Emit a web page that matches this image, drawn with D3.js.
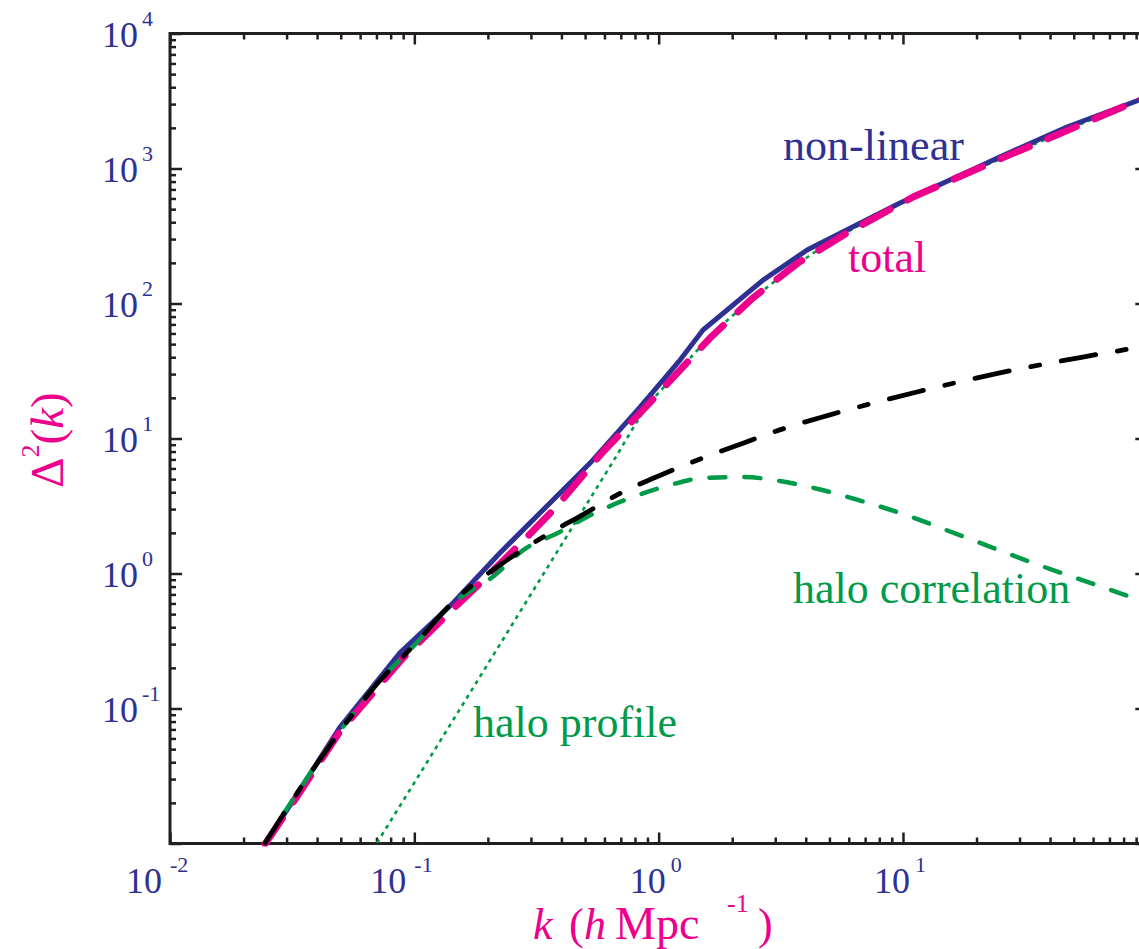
<!DOCTYPE html>
<html>
<head>
<meta charset="utf-8">
<script src="https://cdn.jsdelivr.net/npm/d3@7"></script>
<style>
  body { margin: 0; background: #fff; }
  svg { display: block; }
  text { font-family: "Liberation Serif", "Times New Roman", serif; }
</style>
</head>
<body>
<svg id="chart" width="1139" height="949"></svg>
<script>
// values (k in h/Mpc, Delta^2)
const nonlinK = [0.0245, 0.0301, 0.0497, 0.0873, 0.144, 0.224, 0.524, 0.839, 1.223, 1.519, 2.673, 4.05, 9.72, 24.9, 46.9, 92.5, 100];
const nonlinD = [0.0101, 0.0177, 0.073, 0.258, 0.604, 1.42, 6.58, 17.1, 38.1, 63.6, 149, 249, 555, 1217, 2030, 3216, 3400];

const totalK = [0.0245, 0.0301, 0.0497, 0.0899, 0.144, 0.198, 0.289, 0.377, 0.591, 0.863, 1.258, 1.622, 2.43, 3.72, 6.0, 11.0, 24.9, 92.5, 100];
const totalD = [0.0099, 0.0172, 0.068, 0.237, 0.546, 0.942, 1.86, 3.05, 7.94, 16.3, 33.9, 55.5, 110, 200, 339, 615, 1175, 3216, 3400];

const linK = [0.0245, 0.0404, 0.0703, 0.1026, 0.140, 0.237, 0.336, 0.486, 0.701, 1.022, 1.52, 2.23, 3.32, 4.98, 11.4, 24.9, 57.2, 92.5, 100];
const linD = [0.0101, 0.0402, 0.152, 0.311, 0.585, 1.24, 1.86, 2.71, 3.95, 5.37, 7.18, 9.27, 12.0, 14.9, 22.1, 30.6, 40.8, 47.6, 49];

const corrK = [0.0245, 0.0404, 0.0703, 0.1026, 0.140, 0.214, 0.279, 0.394, 0.538, 0.763, 1.082, 1.52, 2.21, 3.14, 4.49, 6.67, 9.72, 17.9, 35.3, 70.9, 92.5, 100];
const corrD = [0.0101, 0.0402, 0.152, 0.308, 0.575, 0.975, 1.49, 2.03, 2.76, 3.62, 4.45, 5.10, 5.19, 4.84, 4.23, 3.47, 2.81, 1.86, 1.17, 0.755, 0.637, 0.605];

const profK = [0.0703, 0.1, 0.2, 0.4, 0.65, 0.895, 1.19, 1.67, 2.43, 3.72, 11.0, 24.9, 92.5, 100];
const profD = [0.0101, 0.0282, 0.214, 1.63, 6.73, 17.1, 30.6, 60, 108, 197, 612, 1172, 3215, 3399];

const xTickExps = [-2, -1, 0, 1];
const yTickExps = [4, 3, 2, 1, 0, -1];

const navy = "#2E3192", pink = "#EC008C", green = "#009A49", ink = "#231F20";

const svg = d3.select("#chart");
const plotL = 170, plotR = 1147.3, plotT = 33.5, plotB = 843.5;

const x = d3.scaleLog().domain([0.01, 100]).range([plotL, plotR]);
const y = d3.scaleLog().domain([0.01, 1e4]).range([plotB, plotT]);

// tick positions
const majors = [0.01, 0.1, 1, 10, 100];
const xMinor = [], yMinor = [];
[0.01, 0.1, 1, 10].forEach(b => d3.range(2, 10).forEach(m => xMinor.push(b * m)));
[0.01, 0.1, 1, 10, 100, 1000].forEach(b => d3.range(2, 10).forEach(m => yMinor.push(b * m)));
const yMajors = [0.01, 0.1, 1, 10, 100, 1000, 10000];

function tickAxis(axis, tx, ty) {
    const g = svg.append("g")
        .attr("transform", `translate(${tx},${ty})`)
        .call(axis);
    g.select(".domain").remove();
    g.selectAll("line").attr("stroke", ink).attr("stroke-width", 2.5);
    return g;
}

tickAxis(d3.axisBottom(x).tickValues(xMinor).tickSize(-6).tickFormat(""), 0, plotB);
tickAxis(d3.axisBottom(x).tickValues(majors).tickSize(-11).tickFormat(""), 0, plotB);
tickAxis(d3.axisTop(x).tickValues(xMinor).tickSize(-6).tickFormat(""), 0, plotT);
tickAxis(d3.axisTop(x).tickValues(majors).tickSize(-11).tickFormat(""), 0, plotT);
tickAxis(d3.axisLeft(y).tickValues(yMinor).tickSize(-6).tickFormat(""), plotL, 0);
tickAxis(d3.axisLeft(y).tickValues(yMajors).tickSize(-12).tickFormat(""), plotL, 0);
tickAxis(d3.axisRight(y).tickValues(yMajors).tickSize(-12).tickFormat(""), plotR, 0);

// frame
svg.append("g")
    .selectAll("line")
    .data([[plotL, plotT, plotR, plotT], [plotL, plotB, plotR, plotB], [plotL, plotT - 1.5, plotL, plotB + 1.5]])
    .enter().append("line")
    .attr("x1", d => d[0]).attr("y1", d => d[1])
    .attr("x2", d => d[2]).attr("y2", d => d[3])
    .attr("stroke", ink)
    .attr("stroke-width", 3);

// curves
svg.append("clipPath").attr("id", "plot-clip")
    .append("rect")
    .attr("x", plotL).attr("y", plotT)
    .attr("width", plotR - plotL).attr("height", plotB - plotT + 3);

const plot = svg.append("g").attr("clip-path", "url(#plot-clip)");

function zipSeries(ks, ds) { return ks.map((k, i) => [k, ds[i]]); }

const series = [
    { data: zipSeries(profK, profD), color: green, width: 2.6, dash: "4,4.5", cap: "butt", curve: d3.curveMonotoneX },
    { data: zipSeries(nonlinK, nonlinD), color: navy, width: 5, dash: null, cap: "round", curve: d3.curveLinear },
    { data: zipSeries(totalK, totalD), color: pink, width: 7, dash: "31,20", cap: "round", curve: d3.curveLinear },
    { data: zipSeries(corrK, corrD), color: green, width: 4.5, dash: "16,19", cap: "round", curve: d3.curveMonotoneX },
    { data: zipSeries(linK, linD), color: "#000", width: 4.8, dash: "35,22,9,22", cap: "round", curve: d3.curveMonotoneX }
];

plot.selectAll(".curve")
    .data(series)
    .enter().append("path")
    .attr("class", "curve")
    .attr("fill", "none")
    .attr("stroke", d => d.color)
    .attr("stroke-width", d => d.width)
    .attr("stroke-dasharray", d => d.dash)
    .attr("stroke-linecap", d => d.cap)
    .attr("stroke-linejoin", "round")
    .attr("d", d => d3.line().x(p => x(p[0])).y(p => y(p[1])).curve(d.curve)(d.data));

// tick labels
const xLab = svg.append("g").attr("fill", navy);
xTickExps.forEach(e => {
    const px = x(Math.pow(10, e));
    const neg = e < 0;
    xLab.append("text")
        .attr("x", neg ? px - 8 : px + 7).attr("y", plotB + 49)
        .attr("text-anchor", "end")
        .style("font-size", "36px")
        .text("10");
    xLab.append("text")
        .attr("x", neg ? px : px + 12).attr("y", plotB + 28)
        .style("font-size", "22px")
        .text(e);
});

const yLab = svg.append("g").attr("fill", navy);
yTickExps.forEach(e => {
    const py = y(Math.pow(10, e));
    yLab.append("text")
        .attr("x", 138).attr("y", py + 13.5)
        .attr("text-anchor", "end")
        .style("font-size", "36px")
        .text("10");
    yLab.append("text")
        .attr("x", 142).attr("y", py - 8)
        .style("font-size", "22px")
        .text(e);
});

// axis titles
const yTitle = svg.append("text")
    .attr("transform", "translate(63,440) rotate(-90)")
    .attr("text-anchor", "middle")
    .attr("fill", pink)
    .style("font-size", "47px");
yTitle.append("tspan").text("\u0394");
yTitle.append("tspan").attr("dy", -24).style("font-size", "26px").text("2");
yTitle.append("tspan").attr("dy", 24).text("(");
yTitle.append("tspan").style("font-style", "italic").text("k");
yTitle.append("tspan").text(")");

const xTitle = svg.append("g").attr("fill", pink);
[
    { t: "k", x: 533, y: 939, size: 44, italic: true },
    { t: "(", x: 569, y: 939, size: 44 },
    { t: "h", x: 584, y: 939, size: 44, italic: true },
    { t: "Mpc", x: 615, y: 939, size: 46 },
    { t: "-1", x: 727, y: 912, size: 26 },
    { t: ")", x: 758, y: 939, size: 44 }
].forEach(p => {
    xTitle.append("text")
        .attr("x", p.x).attr("y", p.y)
        .style("font-size", p.size + "px")
        .style("font-style", p.italic ? "italic" : "normal")
        .text(p.t);
});

// curve labels
const notes = [
    { t: "non-linear", x: 783, y: 160, color: navy },
    { t: "total", x: 848, y: 272, color: pink },
    { t: "halo correlation", x: 793, y: 603, color: green },
    { t: "halo profile", x: 473, y: 737, color: green }
];
svg.append("g")
    .selectAll("text")
    .data(notes)
    .enter().append("text")
    .attr("x", d => d.x).attr("y", d => d.y)
    .attr("fill", d => d.color)
    .style("font-size", "44px")
    .text(d => d.t);
</script>
</body>
</html>
